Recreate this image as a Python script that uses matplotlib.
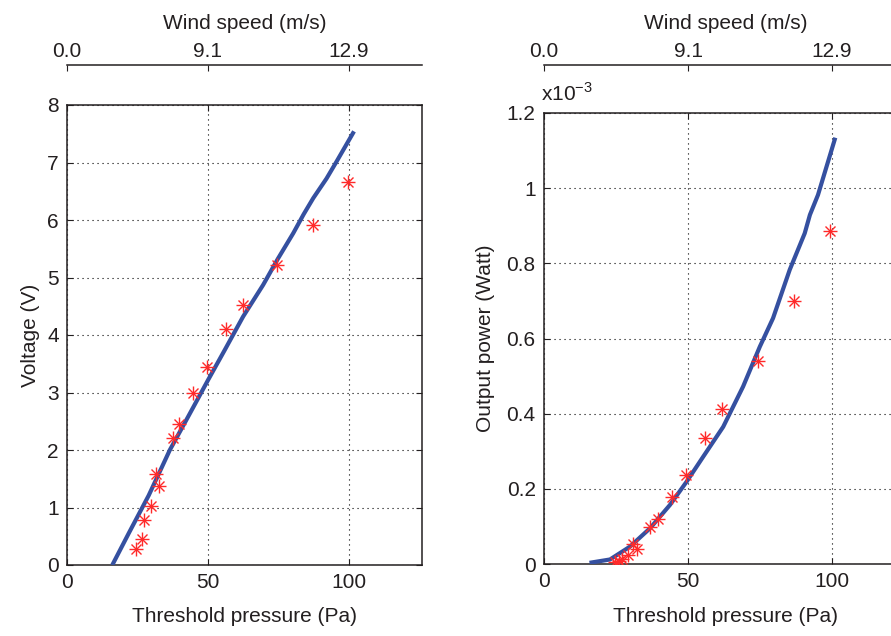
import numpy as np
import matplotlib
matplotlib.use('Agg')
import matplotlib.pyplot as plt

plt.rcParams['font.family'] = ['Liberation Sans', 'DejaVu Sans']
plt.rcParams['mathtext.fontset'] = 'custom'
plt.rcParams['mathtext.rm'] = 'Liberation Sans'

# measured points (threshold pressure in Pa)
meas_p_v = [24.5, 26.5, 27.5, 29.8, 32.6, 31.5, 37.7, 39.7, 44.8, 49.6, 56.3, 62.4, 74.5, 87.4, 99.8]
meas_volt = [0.28, 0.45, 0.78, 1.02, 1.37, 1.59, 2.21, 2.45, 2.99, 3.44, 4.10, 4.53, 5.22, 5.92, 6.66]

meas_p_w = [24.6, 26.1, 27.2, 29.3, 32.2, 31.0, 36.9, 39.7, 44.5, 49.3, 55.8, 61.9, 74.2, 86.8, 99.3]
meas_power = [0.004, 0.007, 0.012, 0.024, 0.041, 0.052, 0.099, 0.120, 0.179, 0.237, 0.336, 0.412, 0.540, 0.700, 0.886]  # x1e-3 W

# model curves
model_p_v = [16.4, 22.0, 29.0, 36.5, 43.0, 50.1, 56.0, 62.5, 69.6, 74.9, 80.3, 84.0, 87.4, 92.1, 95.6, 101.5]
model_volt = [0.03, 0.56, 1.21, 2.00, 2.58, 3.22, 3.74, 4.32, 4.87, 5.33, 5.77, 6.10, 6.38, 6.72, 7.01, 7.51]

model_p_w = [16.5, 22.9, 29.8, 36.8, 43.7, 49.5, 55.3, 62.2, 69.1, 74.9, 79.5, 85.3, 90.5, 92.3, 95.1, 100.9]
model_power = [0.004, 0.012, 0.046, 0.095, 0.157, 0.219, 0.286, 0.365, 0.472, 0.578, 0.654, 0.783, 0.880, 0.929, 0.982, 1.129]

wind_ticks = [0, 50, 100]
wind_labels = ['0.0', '9.1', '12.9']

volt_ticks = [0, 1, 2, 3, 4, 5, 6, 7, 8]
power_ticks = [0, 0.2, 0.4, 0.6, 0.8, 1.0, 1.2]
power_labels = ['0', '0.2', '0.4', '0.6', '0.8', '1', '1.2']

W, H = 891, 636
TXT = '#231f20'
BLUE = '#3550a0'
RED = '#ff2a2a'
FS = 15

fig = plt.figure(figsize=(W / 100, H / 100), dpi=100)


def px_axes(left, top, right, bottom):
    return fig.add_axes([left / W, 1 - bottom / H, (right - left) / W, (bottom - top) / H])


def style(ax, top_px, bottom_px):
    for s in ax.spines.values():
        s.set_color(TXT)
        s.set_linewidth(1.1)
    ax.tick_params(direction='in', top=True, right=True, length=4, width=0.8,
                   colors=TXT, labelsize=FS, pad=6)
    ax.grid(True, color='k', linestyle=(0, (1, 3.5)), linewidth=0.8)
    ax.set_xlim(0, 126)
    ax.set_xticks([0, 50, 100])
    # wind speed axis floating above the box
    off = 1 + (top_px - 65) / (bottom_px - top_px)
    sec = ax.secondary_xaxis(off)
    sec.set_xticks(wind_ticks)
    sec.set_xticklabels(wind_labels)
    sec.tick_params(direction='in', length=4, width=0.8, colors=TXT, labelsize=FS, pad=3)
    sec.spines['top'].set_color(TXT)
    sec.spines['top'].set_linewidth(1.1)
    sec.set_xlabel('Wind speed (m/s)', fontsize=FS, color=TXT, labelpad=9)


def draw_meas(ax, x, y):
    ax.plot(x, y, linestyle='none', marker='+', markersize=10.5, mew=1.0, color=RED, zorder=4)
    ax.plot(x, y, linestyle='none', marker='x', markersize=7, mew=1.0, color=RED, zorder=4)


# left: voltage
ax1 = px_axes(67, 105, 422, 565)
ax1.plot(model_p_v, model_volt, color=BLUE, linewidth=3.0, zorder=3)
draw_meas(ax1, meas_p_v, meas_volt)
ax1.set_ylim(0, 8)
ax1.set_yticks(volt_ticks)
style(ax1, 105, 565)
ax1.set_xlabel('Threshold pressure (Pa)', fontsize=FS, color=TXT)
ax1.xaxis.set_label_coords(0.5, -(607 - 565) / 460)
ax1.set_ylabel('Voltage (V)', fontsize=FS, color=TXT)
ax1.yaxis.set_label_coords(-(67 - 40) / 355, 0.5)

# right: output power
ax2 = px_axes(544, 113, 907, 564)
ax2.plot(model_p_w, model_power, color=BLUE, linewidth=3.0, zorder=3)
draw_meas(ax2, meas_p_w, meas_power)
ax2.set_ylim(0, 1.2)
ax2.set_yticks(power_ticks)
ax2.set_yticklabels(power_labels)
style(ax2, 113, 564)
ax2.set_xlabel('Threshold pressure (Pa)', fontsize=FS, color=TXT)
ax2.xaxis.set_label_coords(0.5, -(607 - 564) / 451)
ax2.set_ylabel('Output power (Watt)', fontsize=FS, color=TXT)
ax2.yaxis.set_label_coords(-(544 - 495) / 363, 0.5)
fig.text(541 / W, 1 - 101 / H, r'x10$^{\mathrm{-3}}$', fontsize=FS, color=TXT,
         ha='left', va='baseline')

fig.savefig('out.png', dpi=100)
